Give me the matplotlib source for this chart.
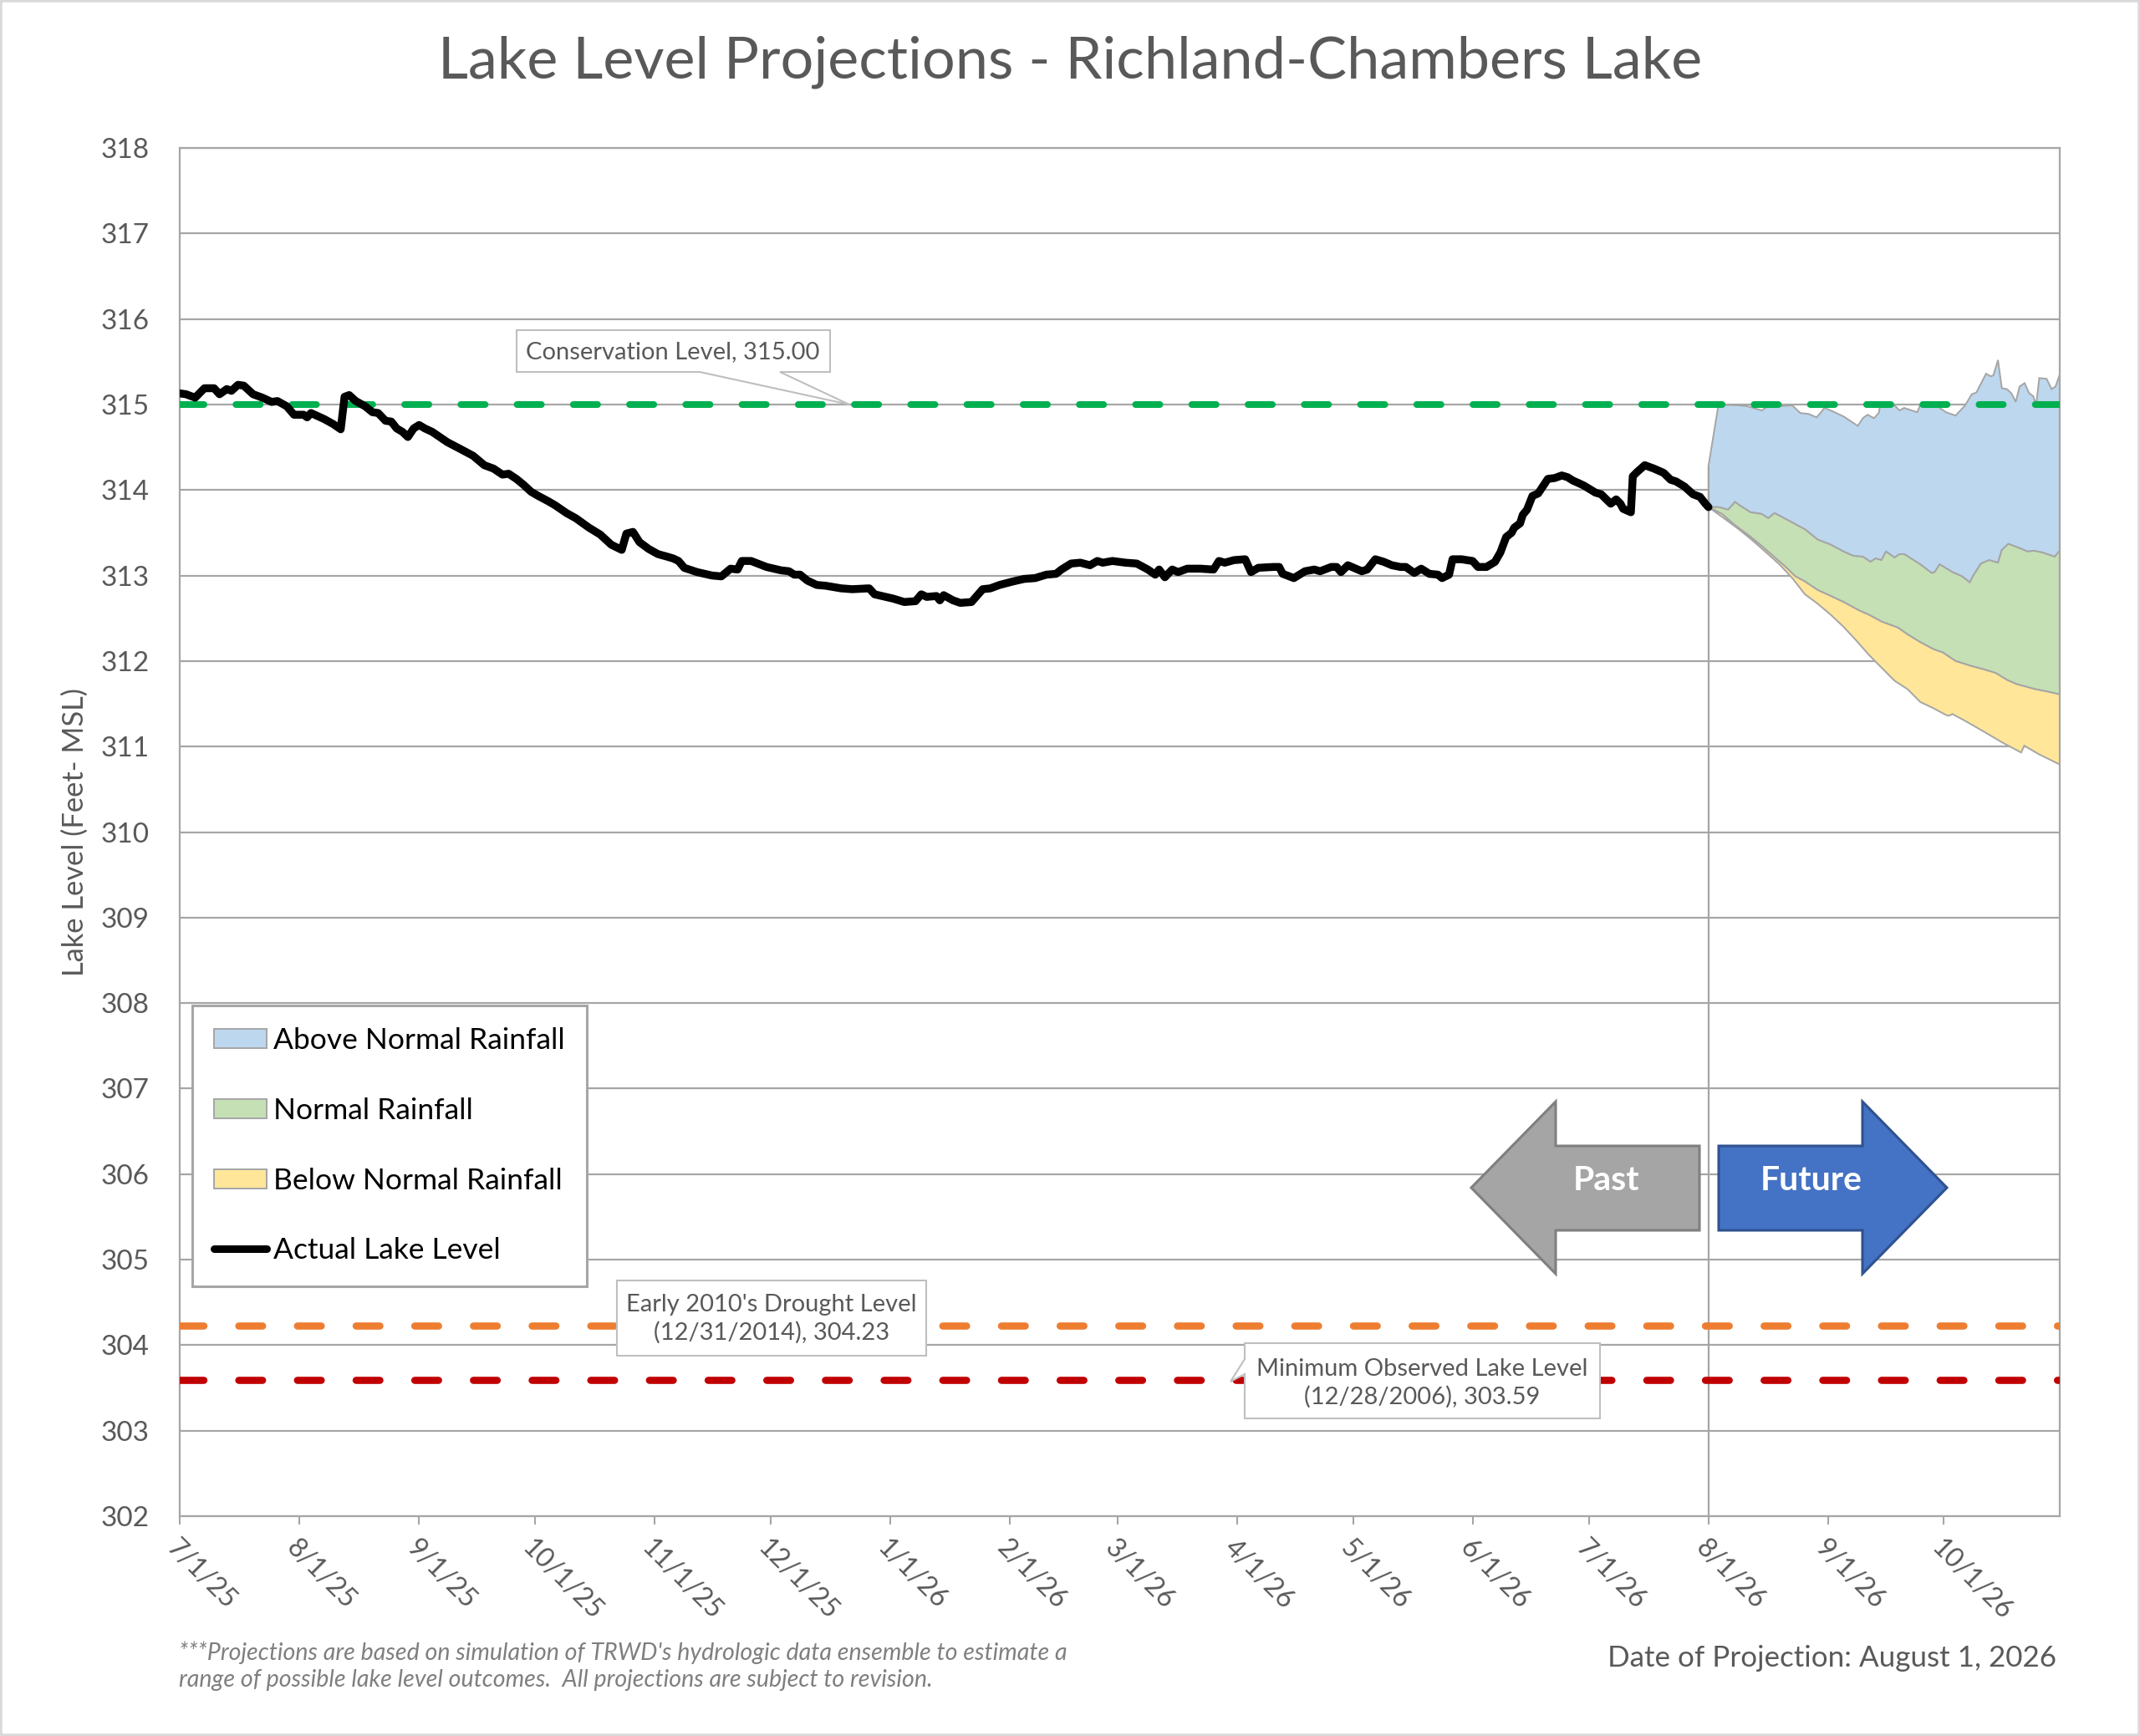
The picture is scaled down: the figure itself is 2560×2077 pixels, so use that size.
import datetime as dt
import matplotlib
matplotlib.use("Agg")
import matplotlib.pyplot as plt
import matplotlib.dates as mdates
from matplotlib.patches import Polygon, Patch, Rectangle
from matplotlib.lines import Line2D

plt.rcParams['font.family'] = ['Lato', 'DejaVu Sans']

# ---------------- data ----------------
start_date = dt.date(2025, 7, 1)
end_date = dt.date(2026, 10, 31)
projection_date = dt.date(2026, 8, 1)

tick_dates = ['2025-07-01', '2025-08-01', '2025-09-01', '2025-10-01', '2025-11-01',
              '2025-12-01', '2026-01-01', '2026-02-01', '2026-03-01', '2026-04-01',
              '2026-05-01', '2026-06-01', '2026-07-01', '2026-08-01', '2026-09-01',
              '2026-10-01']
tick_labels = ['7/1/25', '8/1/25', '9/1/25', '10/1/25', '11/1/25', '12/1/25', '1/1/26',
               '2/1/26', '3/1/26', '4/1/26', '5/1/26', '6/1/26', '7/1/26', '8/1/26',
               '9/1/26', '10/1/26']
y_ticks = list(range(302, 319))

# days since 7/1/25
actual_days = [0, 1.6, 4.0, 6.4, 8.9, 10.3, 12.2, 13.4, 15.1, 16.6, 19.0, 21.4, 23.8, 25.3,
               27.7, 29.6, 32.1, 33.0, 34.0, 37.4, 39.8, 41.7, 42.7, 43.9, 45.6, 48.0, 49.9,
               51.4, 53.3, 54.8, 56.2, 57.7, 59.1, 60.6, 62.0, 63.5, 65.4, 69.3, 73.1, 76.0,
               78.9, 81.3, 83.6, 85.2, 87.2, 89.1, 91.0, 92.9, 95.4, 97.3, 100.2, 102.6,
               106.0, 108.9, 111.8, 114.5, 115.7, 117.4, 119.1, 121.5, 123.9, 126.3, 127.8,
               129.2, 130.7, 134.0, 137.9, 140.3, 142.7, 144.5, 145.6, 148.0, 152.0, 155.8,
               157.8, 159.2, 160.7, 162.6, 165.0, 167.4, 171.3, 174.2, 178.6, 180.0, 184.8,
               187.7, 190.6, 192.1, 193.5, 196.0, 196.9, 197.9, 200.3, 202.2, 205.1, 208.0,
               210.0, 212.4, 215.8, 218.7, 221.6, 224.5, 227.0, 228.4, 230.9, 233.3, 235.8,
               237.7, 239.1, 241.6, 245.0, 247.9, 250.8, 252.7, 253.7, 255.2, 257.1, 258.6,
               261.0, 264.4, 267.8, 269.2, 270.7, 273.1, 276.0, 277.5, 279.4, 283.3, 284.8,
               285.7, 288.6, 291.5, 293.9, 295.4, 298.3, 299.7, 300.8, 302.6, 306.2, 307.6,
               309.7, 311.9, 314.0, 316.2, 317.6, 319.8, 321.6, 323.7, 325.9, 327.0, 328.8,
               329.7, 332.0, 334.9, 336.3, 338.5, 340.7, 342.1, 343.6, 345.0, 345.7, 347.2,
               347.9, 349.0, 350.4, 351.9, 354.4, 356.2, 358.0, 359.5, 360.9, 362.4, 363.8,
               366.7, 368.2, 370.7, 372.1, 373.2, 373.9, 375.9, 376.4, 377.5, 379.5, 381.9,
               384.4, 386.2, 387.6, 389.8, 392.0, 393.8, 395.2, 396.0]
actual_levels = [315.13, 315.12, 315.08, 315.19, 315.19, 315.12, 315.18, 315.16, 315.23,
                 315.22, 315.12, 315.08, 315.03, 315.04, 314.98, 314.88, 314.88, 314.85,
                 314.90, 314.83, 314.77, 314.71, 315.09, 315.11, 315.04, 314.98, 314.91,
                 314.90, 314.81, 314.80, 314.72, 314.68, 314.62, 314.72, 314.76, 314.72,
                 314.68, 314.56, 314.47, 314.40, 314.29, 314.25, 314.18, 314.19, 314.13,
                 314.06, 313.98, 313.93, 313.87, 313.82, 313.73, 313.67, 313.56, 313.48,
                 313.36, 313.30, 313.49, 313.51, 313.39, 313.31, 313.25, 313.22, 313.20,
                 313.17, 313.09, 313.04, 313.00, 312.99, 313.08, 313.07, 313.17, 313.17,
                 313.10, 313.06, 313.05, 313.01, 313.01, 312.94, 312.89, 312.88, 312.85,
                 312.84, 312.85, 312.78, 312.73, 312.69, 312.70, 312.78, 312.75, 312.76,
                 312.71, 312.77, 312.71, 312.68, 312.69, 312.84, 312.85, 312.89, 312.93,
                 312.96, 312.97, 313.01, 313.02, 313.07, 313.14, 313.15, 313.12, 313.17,
                 313.15, 313.17, 313.15, 313.14, 313.07, 313.01, 313.07, 312.98, 313.07,
                 313.04, 313.08, 313.08, 313.07, 313.17, 313.15, 313.18, 313.19, 313.04,
                 313.09, 313.10, 313.10, 313.02, 312.97, 313.05, 313.07, 313.05, 313.10,
                 313.10, 313.04, 313.12, 313.05, 313.07, 313.19, 313.16, 313.12, 313.10,
                 313.10, 313.03, 313.08, 313.02, 313.01, 312.97, 313.01, 313.19, 313.19,
                 313.17, 313.10, 313.10, 313.16, 313.27, 313.45, 313.50, 313.56, 313.61,
                 313.71, 313.77, 313.93, 313.96, 314.13, 314.14, 314.17, 314.15, 314.11,
                 314.08, 314.05, 313.97, 313.95, 313.84, 313.89, 313.84, 313.78, 313.74,
                 314.16, 314.21, 314.29, 314.25, 314.20, 314.12, 314.10, 314.04, 313.95,
                 313.92, 313.84, 313.80]

above_top_days = [396.0, 398.6, 403.6, 406.1, 409.8, 411.1, 417.7, 419.8, 421.9, 424.0, 425.2,
                  426.0, 427.7, 431.0, 434.7, 436.0, 437.2, 438.9, 440.1, 440.5, 444.2, 445.5,
                  446.7, 448.0, 450.1, 450.9, 455.0, 457.5, 460.0, 462.5, 464.2, 465.4, 467.9,
                  469.1, 469.8, 471.0, 472.0, 473.3, 474.5, 475.6, 476.6, 477.9, 479.1, 480.1,
                  480.9, 481.7, 483.6, 484.9, 485.9, 487.0]
above_top_levels = [314.28, 315.00, 314.99, 314.98, 314.93, 314.97, 314.99, 314.90, 314.89,
                    314.85, 314.91, 314.96, 314.93, 314.86, 314.75, 314.84, 314.88, 314.84,
                    314.90, 314.99, 314.99, 314.93, 314.96, 314.94, 314.91, 315.00, 314.99,
                    314.91, 314.87, 314.99, 315.12, 315.14, 315.36, 315.33, 315.34, 315.52,
                    315.19, 315.18, 315.13, 315.03, 315.21, 315.25, 315.13, 315.10, 315.00,
                    315.31, 315.30, 315.18, 315.21, 315.35]

normal_top_days = [396.0, 398.6, 401.1, 402.9, 404.4, 406.9, 409.8, 411.5, 413.1, 414.4, 417.7,
                   421.0, 424.3, 427.7, 431.0, 433.5, 436.0, 438.0, 439.3, 440.8, 442.0, 444.2,
                   445.5, 446.7, 450.9, 453.8, 454.6, 455.9, 459.2, 461.7, 463.7, 464.6, 466.6,
                   468.7, 471.0, 472.0, 473.7, 476.6, 478.7, 480.3, 482.4, 485.7, 487.0]
normal_top_levels = [313.80, 313.80, 313.77, 313.86, 313.81, 313.74, 313.72, 313.67, 313.73,
                     313.70, 313.62, 313.54, 313.42, 313.36, 313.28, 313.23, 313.22, 313.16,
                     313.20, 313.18, 313.28, 313.21, 313.25, 313.25, 313.13, 313.03, 313.04,
                     313.13, 313.04, 312.99, 312.92, 313.00, 313.14, 313.18, 313.15, 313.30,
                     313.37, 313.32, 313.28, 313.29, 313.27, 313.22, 313.29]

normal_bottom_days = [396.0, 399.5, 402.8, 406.1, 409.4, 412.7, 416.0, 418.5, 421.0, 424.3,
                      427.7, 431.0, 435.1, 437.6, 440.9, 445.1, 447.6, 450.9, 454.2, 456.7,
                      460.0, 464.2, 467.5, 470.4, 473.3, 475.8, 480.7, 484.1, 487.0]
normal_bottom_levels = [313.80, 313.72, 313.59, 313.48, 313.36, 313.23, 313.10, 312.99,
                        312.93, 312.83, 312.76, 312.69, 312.59, 312.54, 312.46, 312.39,
                        312.31, 312.22, 312.14, 312.10, 312.00, 311.94, 311.90, 311.86,
                        311.78, 311.73, 311.67, 311.64, 311.61]

below_bottom_days = [396.0, 400.3, 403.6, 406.9, 410.2, 414.4, 417.7, 421.0, 424.3, 427.7,
                     431.0, 434.3, 437.6, 440.9, 444.2, 447.6, 450.9, 454.2, 457.5, 458.3,
                     459.2, 462.5, 467.5, 472.4, 477.0, 477.8, 481.6, 487.0]
below_bottom_levels = [313.80, 313.66, 313.55, 313.43, 313.30, 313.13, 312.97, 312.78,
                       312.67, 312.54, 312.40, 312.24, 312.07, 311.92, 311.77, 311.67,
                       311.52, 311.45, 311.37, 311.36, 311.38, 311.30, 311.17, 311.04,
                       310.93, 311.01, 310.91, 310.79]

conservation_level = 315.00
drought_level = 304.23
min_level = 303.59

legend_labels = ['Above Normal Rainfall', 'Normal Rainfall', 'Below Normal Rainfall',
                 'Actual Lake Level']

# ---------------- styles ----------------
W, H = 2560, 2077
GRAY_TXT = '#595959'
GRID = '#A6A6A6'
EDGE = '#A5A5A5'
C_ABOVE = '#BDD7EE'
C_NORMAL = '#C5E0B4'
C_BELOW = '#FFE699'

t0 = mdates.date2num(start_date)


def X(days):
    return [t0 + d for d in days]


def F(x, y):
    """figure pixel (from top-left) -> figure fraction"""
    return (x / W, 1 - y / H)


fig = plt.figure(figsize=(W / 100, H / 100), dpi=100)
fig.patch.set_facecolor('white')
ax = fig.add_axes([215 / W, 1 - 1814 / H, (2464 - 215) / W, (1814 - 177) / H])

ax.set_xlim(t0, mdates.date2num(end_date))
ax.set_ylim(302, 318)
ax.set_yticks(y_ticks)
ax.set_xticks([mdates.date2num(dt.date.fromisoformat(d)) for d in tick_dates])
ax.set_xticklabels(tick_labels)

ax.yaxis.grid(True, color=GRID, lw=1.6)
ax.set_axisbelow(True)
for s in ax.spines.values():
    s.set_color(GRID)
    s.set_linewidth(1.6)

ax.tick_params(axis='y', length=0, pad=26, labelsize=24, labelcolor=GRAY_TXT)
ax.tick_params(axis='x', length=7, width=1.5, color=GRID, direction='out', pad=9,
               labelsize=23, labelcolor=GRAY_TXT)
for lab in ax.get_xticklabels():
    lab.set_rotation(-45)
    lab.set_ha('left')
    lab.set_va('top')
    lab.set_rotation_mode('anchor')

# projection areas
def area(top_d, top_v, bot_d, bot_v, color):
    xs = X(top_d) + X(bot_d)[::-1]
    ys = list(top_v) + list(bot_v)[::-1]
    poly = Polygon(list(zip(xs, ys)), closed=True, facecolor=color, edgecolor=EDGE,
                   lw=1.4, zorder=2)
    ax.add_patch(poly)

area(above_top_days, above_top_levels, normal_top_days, normal_top_levels, C_ABOVE)
area(normal_top_days, normal_top_levels, normal_bottom_days, normal_bottom_levels, C_NORMAL)
area(normal_bottom_days, normal_bottom_levels, below_bottom_days, below_bottom_levels, C_BELOW)

pd_num = mdates.date2num(projection_date)
ax.vlines(pd_num, 302, above_top_levels[0], color=EDGE, lw=1.6, zorder=2)

# reference lines
ax.axhline(conservation_level, color='#00B050', lw=5.8, dashes=(3.6, 4.75),
           dash_capstyle='round', zorder=3)
ax.axhline(drought_level, color='#ED7D31', lw=6.2, dashes=(3.3, 4.85),
           dash_capstyle='round', zorder=3)
ax.axhline(min_level, color='#C00000', lw=6.2, dashes=(3.3, 4.85),
           dash_capstyle='round', zorder=3)

# actual lake level
ax.plot(X(actual_days), actual_levels, color='black', lw=6.8, solid_joinstyle='round',
        solid_capstyle='round', zorder=5)

# legend
handles = [Patch(facecolor=C_ABOVE, edgecolor=EDGE, lw=1.4),
           Patch(facecolor=C_NORMAL, edgecolor=EDGE, lw=1.4),
           Patch(facecolor=C_BELOW, edgecolor=EDGE, lw=1.4),
           Line2D([], [], color='black', lw=6.5, solid_capstyle='round')]
leg = ax.legend(handles, legend_labels, loc='upper left', bbox_to_anchor=F(230, 1203),
                bbox_transform=fig.transFigure, frameon=True, fancybox=False,
                edgecolor=GRID, framealpha=1, fontsize=25.5, handlelength=1.77,
                handleheight=0.62, handletextpad=0.23, labelspacing=1.46, borderpad=0.74,
                borderaxespad=0)
leg.get_frame().set_linewidth(2.2)
leg.set_zorder(10)

# callout boxes
def callout(points, cx, cy, text):
    poly = Polygon([F(x, y) for x, y in points], closed=True, transform=fig.transFigure,
                   facecolor='white', edgecolor='#BFBFBF', lw=1.5, zorder=4)
    fig.patches.append(poly)
    fig.text(*F(cx, cy), text, ha='center', va='center', fontsize=21, color=GRAY_TXT,
             linespacing=1.3, zorder=5)

callout([(618, 395), (993, 395), (993, 445), (933, 445), (1016, 484), (837, 445), (618, 445)],
        805, 421, 'Conservation Level, 315.00')
callout([(738, 1532), (1108, 1532), (1108, 1622), (738, 1622)],
        923, 1578, "Early 2010's Drought Level\n(12/31/2014), 304.23")
callout([(1489, 1607), (1914, 1607), (1914, 1697), (1489, 1697), (1489, 1644), (1472, 1653),
         (1489, 1626)],
        1701, 1655, 'Minimum Observed Lake Level\n(12/28/2006), 303.59')

# past / future arrows
past = [(1760, 1421), (1861, 1318), (1861, 1371), (2033, 1371), (2033, 1472), (1861, 1472),
        (1861, 1524)]
future = [(2056, 1371), (2228, 1371), (2228, 1318), (2329, 1421), (2228, 1524), (2228, 1472),
          (2056, 1472)]
fig.patches.append(Polygon([F(x, y) for x, y in past], closed=True, transform=fig.transFigure,
                           facecolor='#A5A5A5', edgecolor='#7F7F7F', lw=2.2, zorder=4))
fig.patches.append(Polygon([F(x, y) for x, y in future], closed=True, transform=fig.transFigure,
                           facecolor='#4472C4', edgecolor='#2F528F', lw=2.2, zorder=4))
fig.text(*F(1922, 1413), 'Past', ha='center', va='center', fontsize=29.5, fontweight='bold',
         color='white', zorder=5)
fig.text(*F(2167, 1413), 'Future', ha='center', va='center', fontsize=29.5, fontweight='bold',
         color='white', zorder=5)

# texts
fig.text(*F(1280, 74), 'Lake Level Projections - Richland-Chambers Lake', ha='center',
         va='center', fontsize=50.5, color=GRAY_TXT)
fig.text(*F(90, 996), 'Lake Level (Feet- MSL)', rotation=90, ha='center', va='center',
         fontsize=24.8, color=GRAY_TXT)
fig.text(*F(214, 1993), "***Projections are based on simulation of TRWD's hydrologic data "
         "ensemble to estimate a\nrange of possible lake level outcomes.  All projections are "
         "subject to revision.", ha='left', va='center', fontsize=20.6, style='italic',
         color='#7F7F7F', linespacing=1.3)
fig.text(*F(2460, 1984), 'Date of Projection: August 1, 2026', ha='right', va='center',
         fontsize=25.2, color=GRAY_TXT)

# outer border
fig.patches.append(Rectangle((0, 0), 1, 1, transform=fig.transFigure, fill=False,
                             edgecolor='#D9D9D9', lw=4, zorder=0))

fig.savefig('out.png', dpi=100)
